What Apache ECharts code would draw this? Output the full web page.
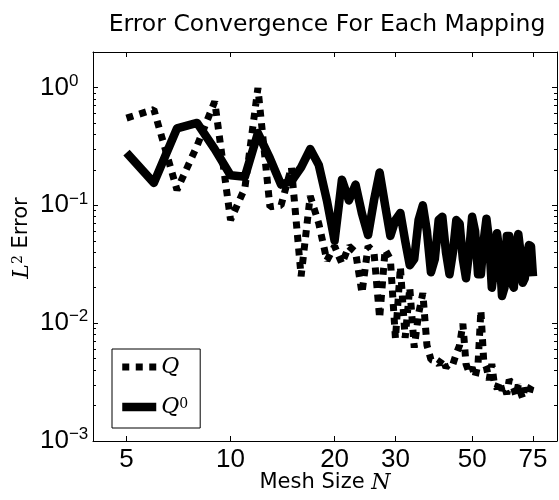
<!DOCTYPE html>
<html>
<head>
<meta charset="utf-8">
<script src="https://cdn.jsdelivr.net/npm/echarts@6/dist/echarts.min.js"></script>
<style>
html, body { margin: 0; padding: 0; background: #fff; }
#chart { width: 559px; height: 500px; }
</style>
</head>
<body>
<div id="chart"></div>
<script>
// mesh sizes N
var meshSize = [5, 6, 7, 8, 9, 10, 11, 12, 13, 14, 15, 16, 17, 18, 19, 20,
  21, 22, 23, 24, 25, 26, 27, 28, 29, 30, 31, 32, 33, 34, 35, 36, 37, 38, 39, 40,
  41, 42, 43, 44, 45, 46, 47, 48, 49, 50, 51, 52, 53, 54, 55, 56, 57, 58, 59, 60,
  61, 62, 63, 64, 65, 66, 67, 68, 69, 70, 71, 72, 73, 74, 75];

// L2 error, mapping Q (dotted)
var errQ = [0.55, 0.65, 0.135, 0.32, 0.76, 0.075, 0.14, 0.99, 0.097, 0.10, 0.21, 0.025,
  0.12, 0.07, 0.034, 0.045, 0.032, 0.045, 0.04, 0.018, 0.045, 0.04, 0.011, 0.042,
  0.035, 0.0074, 0.03, 0.0075, 0.02, 0.0062, 0.012, 0.018, 0.0065, 0.0049, 0.0048,
  0.0045, 0.005, 0.0042, 0.0046, 0.0045, 0.0055, 0.0065, 0.0099, 0.0045, 0.0038,
  0.0042, 0.0035, 0.0045, 0.0128, 0.0048, 0.0042, 0.0033, 0.0045, 0.003, 0.0028,
  0.0032, 0.0027, 0.0029, 0.0025, 0.0033, 0.0031, 0.0028, 0.0024, 0.003, 0.0026,
  0.0023, 0.0028, 0.0026, 0.0025, 0.0029, 0.0031];

// L2 error, mapping Q^0 (solid)
var errQ0 = [0.28, 0.155, 0.45, 0.50, 0.30, 0.18, 0.175, 0.41, 0.25, 0.15, 0.16, 0.21,
  0.30, 0.22, 0.11, 0.05, 0.165, 0.11, 0.15, 0.085, 0.056, 0.11, 0.19, 0.10, 0.055,
  0.075, 0.086, 0.05, 0.031, 0.035, 0.075, 0.10, 0.06, 0.027, 0.035, 0.075, 0.08,
  0.04, 0.026, 0.04, 0.075, 0.07, 0.035, 0.024, 0.04, 0.08, 0.06, 0.026, 0.026, 0.05,
  0.077, 0.05, 0.02, 0.03, 0.058, 0.04, 0.017, 0.02, 0.055, 0.055, 0.022, 0.02, 0.045,
  0.057, 0.04, 0.022, 0.024, 0.038, 0.046, 0.045, 0.025];

var xTicks = [5, 10, 20, 30, 50, 75];
var yTicks = [0.001, 0.01, 0.1, 1];
var yMinorTicks = [0.002, 0.003, 0.004, 0.005, 0.006, 0.007, 0.008, 0.009,
  0.02, 0.03, 0.04, 0.05, 0.06, 0.07, 0.08, 0.09,
  0.2, 0.3, 0.4, 0.5, 0.6, 0.7, 0.8, 0.9];

var chart = echarts.init(document.getElementById('chart'));

function pairs(ys) {
  return meshSize.map(function (n, i) { return [n, ys[i]]; });
}

function xAxis(pos, labels) {
  return {
    type: 'log', position: pos, min: 4, max: 88,
    axisLine: { show: true, onZero: false, lineStyle: { color: '#000', width: 1 } },
    axisTick: { show: true, inside: true, length: 5, customValues: xTicks, lineStyle: { color: '#000' } },
    axisLabel: {
      show: labels, customValues: xTicks, margin: 6, color: '#000',
      fontFamily: 'Liberation Sans', fontSize: 26,
      formatter: function (v) { return String(Math.round(v)); }
    },
    splitLine: { show: false }
  };
}

function yAxis(pos, ticks, len, line, labels) {
  return {
    type: 'log', position: pos, min: 0.001, max: 2,
    axisLine: { show: line, onZero: false, lineStyle: { color: '#000', width: 1 } },
    axisTick: { show: true, inside: true, length: len, customValues: ticks, lineStyle: { color: '#000' } },
    axisLabel: {
      show: labels, customValues: ticks, align: 'left', margin: 53,
      formatter: function (v) {
        var e = Math.round(Math.log10(v));
        return '{b|10}{e|' + String(e).replace('-', '\u2212') + '}';
      },
      rich: {
        b: { fontFamily: 'Liberation Sans', fontSize: 26, lineHeight: 30, color: '#000' },
        e: { fontFamily: 'Liberation Sans', fontSize: 17, lineHeight: 17, verticalAlign: 'top', color: '#000' }
      }
    },
    splitLine: { show: false }
  };
}

var mathRich = {
  n: { fontFamily: 'DejaVu Sans', fontSize: 21, color: '#000' },
  i: { fontFamily: 'DejaVu Serif', fontStyle: 'italic', fontSize: 22, color: '#000' },
  s: { fontFamily: 'DejaVu Serif', fontSize: 14, verticalAlign: 'top', color: '#000' }
};

var dottedStyle = { color: '#000', width: 7, type: [7, 6.5], cap: 'butt', join: 'bevel' };
var solidStyle = { color: '#000', width: 8.5, type: 'solid', cap: 'butt', join: 'round' };

chart.setOption({
  animation: false,
  backgroundColor: '#fff',
  grid: { left: 93, right: 2, top: 52, bottom: 59, containLabel: false, outerBoundsMode: 'none' },
  xAxis: [xAxis('bottom', true), xAxis('top', false)],
  yAxis: [
    yAxis('left', yTicks, 5, true, true),
    yAxis('right', yTicks, 5, true, false),
    yAxis('left', yMinorTicks, 3, false, false),
    yAxis('right', yMinorTicks, 3, false, false)
  ],
  legend: {
    orient: 'vertical', left: 112, top: 349,
    data: [
      { name: 'Q', itemStyle: { opacity: 0 }, lineStyle: dottedStyle },
      { name: 'Q0', itemStyle: { opacity: 0 }, lineStyle: solidStyle }
    ],
    itemWidth: 34, itemHeight: 14, itemGap: 18,
    padding: [7, 12, 10, 6],
    borderColor: '#000', borderWidth: 1, borderRadius: 0, backgroundColor: '#fff',
    formatter: function (name) { return name === 'Q' ? '{i|Q}' : '{i|Q}{s|0}'; },
    textStyle: {
      rich: {
        i: { fontFamily: 'DejaVu Serif', fontStyle: 'italic', fontSize: 22, lineHeight: 20, color: '#000' },
        s: { fontFamily: 'DejaVu Serif', fontSize: 14, lineHeight: 14, verticalAlign: 'top', color: '#000' }
      }
    }
  },
  graphic: [
    {
      type: 'text', x: 327, y: 25,
      style: {
        text: 'Error Convergence For Each Mapping', fill: '#000',
        font: '23.5px "DejaVu Sans"', align: 'center', verticalAlign: 'middle',
        textAlign: 'center', textVerticalAlign: 'middle'
      }
    },
    {
      type: 'text', x: 325, y: 483,
      style: {
        text: '{n|Mesh Size }{i|N}', rich: mathRich, fill: '#000',
        align: 'center', verticalAlign: 'middle', textAlign: 'center', textVerticalAlign: 'middle'
      }
    },
    {
      type: 'text', x: 22, y: 238, rotation: Math.PI / 2,
      style: {
        text: '{i|L}{s|2}{n| Error}', rich: mathRich, fill: '#000',
        align: 'center', verticalAlign: 'middle', textAlign: 'center', textVerticalAlign: 'middle'
      }
    }
  ],
  series: [
    {
      name: 'Q', type: 'line', xAxisIndex: 0, yAxisIndex: 0,
      data: pairs(errQ), symbol: 'none', showSymbol: false,
      lineStyle: dottedStyle
    },
    {
      name: 'Q0', type: 'line', xAxisIndex: 0, yAxisIndex: 0,
      data: pairs(errQ0), symbol: 'none', showSymbol: false,
      lineStyle: solidStyle
    }
  ]
});
</script>
</body>
</html>
